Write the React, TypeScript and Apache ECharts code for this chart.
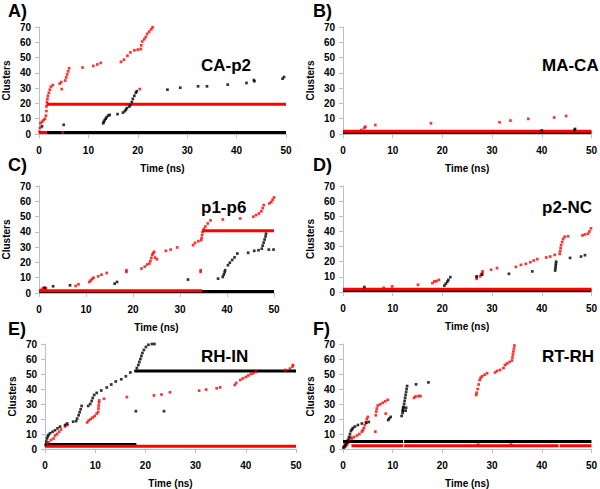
import React, { useEffect, useRef } from "react";
import * as echarts from "echarts";

// ---------- DATA ----------
const X_MIN = 0, X_MAX = 50, X_INTERVAL = 10;
const Y_MIN = 0, Y_MAX = 70, Y_INTERVAL = 10;
const X_NAME = "Time (ns)";
const Y_NAME = "Clusters";
const PANEL_TITLES = ["CA-p2", "MA-CA", "p1-p6", "p2-NC", "RH-IN", "RT-RH"];
const PANEL_LETTERS = ["A)", "B)", "C)", "D)", "E)", "F)"];

// Panel A: CA-p2
const aRed = [[0.1,1.5],[0.2,4],[0.3,7],[0.6,8],[0.9,9],[1.2,10],[1.4,12],[1.5,15],[1.5,18],[1.6,21],[1.7,23],[1.8,25],[2.0,27],[2.2,29],[2.4,31],[2.8,32],[4.6,29.4],[4.2,33],[4.5,34],[5.3,35],[5.5,37],[5.7,39],[5.9,41],[6.1,43],[8.8,43.5],[11,44.5],[11.8,45.5],[12.5,46.5],[16.6,47.2],[17.2,48.6],[17.9,51.2],[18.5,53.4],[19.3,54.8],[20,55.2],[20.6,55.6],[20.4,29.4],[20.7,58],[20.9,60.5],[21.3,62],[21.6,63.5],[21.9,65.5],[22.3,67],[22.7,68.5],[23,69.8],[4.8,1]];
const aBlack = [[0.6,5],[5,6],[13,7],[13.1,8],[13.3,9],[13.5,10],[13.7,11],[14,12],[14.3,12.5],[15.9,13],[17,14],[17.4,15],[17.6,16],[17.8,17],[18.3,18],[18.5,19],[18.8,21],[19,23],[19.3,25],[19.6,27],[19.8,28],[26,29],[28.6,30.3],[32.2,31.2],[34,31.2],[38.2,32.3],[42,33.4],[43.5,35.3],[43.6,34.5],[49.3,36.2],[49.6,37.3]];
const aRedLines = [[[1.5,19.5],[50,19.5]], [[0,1],[1.6,1]]];
const aBlackLines = [[[1.6,1],[50,1]]];

// Panel B: MA-CA
const bRed = [[3.7,2.6],[4.3,3.9],[4.5,4.8],[6.5,5.9],[17.7,7],[31.5,7.7],[33.7,8.8],[37.3,9.9],[42.5,10.8],[44.9,11.8]];
const bBlack = [[40,2.3],[46.6,2.6],[46.7,3.3]];
const bRedLines = [[[0,1.8],[50,1.8]]];
const bBlackLines = [[[0,1],[50,1]]];

// Panel C: p1-p6
const cRed = [[0.4,2],[0.8,3],[1.1,3.5],[1.5,3],[7.8,4.6],[8.4,5.7],[10.7,7.2],[11,8.2],[11.3,9.2],[11.6,10],[12.6,10.9],[13.3,12],[14.4,13.1],[18.6,13.8],[18.6,14.9],[21.8,16],[22.5,17.2],[23,18.6],[23.5,19.3],[23.7,21],[23.9,23],[24.1,25],[24.3,26],[24.5,27],[24.7,23.2],[25.1,22.1],[27,27.6],[28,28.4],[29.4,29.8],[32.8,31.3],[33.2,32.8],[33.9,33.9],[34.4,13.8],[34.4,14.9],[34.5,34.6],[34.6,36],[34.7,38],[34.8,40],[35.1,42],[35.4,43.5],[35.9,45.5],[36.5,47.5],[39.1,48.1],[42.8,48.8],[45.6,49.9],[46.2,51],[46.8,52],[47.3,53.5],[47.6,55.5],[47.8,57.5],[49,58.6],[49.4,59.5],[49.7,61],[50,62.5]];
const cBlack = [[1.25,3.3],[3,4.4],[6.6,5],[16.1,6.1],[16.6,7.2],[31.7,8.8],[38.1,9.4],[39.1,10.5],[39.3,12],[39.5,13.5],[39.6,14.9],[40.2,18.2],[40.6,19.8],[41.1,21.6],[41.6,23.3],[42.2,25.8],[44.5,26.3],[45.8,27.6],[46.7,28],[47.4,29],[47.6,31],[47.8,33],[48,35],[48.2,37],[48.3,38.8],[48.9,28.4],[49.9,28.4]];
const cRedLines = [[[0,1.5],[34.7,1.5]], [[34.7,40.7],[50,40.7]]];
const cBlackLines = [[[0,1],[50,1]]];

// Panel D: p2-NC
const dRed = [[8.2,2.8],[9.9,3.7],[15.1,4.8],[18,5.9],[18.4,7],[18.8,7.2],[19.3,8],[26.9,8.7],[26.9,9.8],[27.6,10.3],[27.8,11.5],[28,12.5],[28.1,13.6],[29.8,14.7],[31,15.8],[34.8,16.6],[35.8,17.9],[36.8,18.6],[37.7,19.7],[38.4,20.8],[39.1,21.7],[40.9,22.8],[41.7,23.4],[42.6,24.5],[43.6,25.2],[43.7,27],[43.8,29],[43.9,31],[44.1,33],[44.3,35],[44.6,36.5],[45.3,36.8],[48.2,37.4],[48.7,38],[49.3,38.5],[49.6,40],[49.9,42]];
const dBlack = [[4.3,3.3],[20.4,4.2],[20.7,5.5],[21,6.8],[21.2,8],[21.6,9.8],[26.9,10.3],[28,11.4],[33.4,12],[38.1,13.6],[42.7,14.2],[42.75,15.7],[42.8,17.2],[42.85,18.6],[42.9,20],[45.7,22.5],[47.9,23.4],[48.7,24.3]];
const dRedLines = [[[0,1.8],[50,1.8]]];
const dBlackLines = [[[0,1],[50,1]]];

// Panel E: RH-IN
const eRed = [[0.3,3],[0.7,4.5],[1.2,6],[1.7,7],[2,9],[2.4,10],[2.8,11.5],[3.2,13],[4,15],[4.5,16],[8.4,17.7],[8.7,19],[9.1,20],[9.5,21],[9.9,22],[10.3,23.6],[10.6,24.7],[10.65,27],[10.7,29],[10.75,31],[10.8,32.4],[11.75,33.5],[16.3,34.6],[21.7,35.7],[23.2,36.3],[24.9,37.8],[30.7,38.9],[32.1,39.6],[34.2,40.5],[34.9,41.1],[37.8,42.7],[38.1,44],[38.9,46],[39.4,47],[40,48],[40.5,49],[41,50],[41.5,50.5],[42,51.5],[47.9,52.7],[48.8,53.6],[49.3,55],[49.4,56]];
const eBlack = [[0.13,2.8],[0.25,5],[0.4,7],[0.55,8.5],[0.7,9.4],[1,10.5],[1.5,11.5],[2,12.5],[2.5,13.8],[3,14.9],[4,16],[4.4,17],[5.6,18.2],[6.2,18.6],[6.4,20.3],[6.7,22.5],[6.9,24.5],[7.1,26.5],[7.3,28.7],[8.6,28.7],[9,30],[9.3,32],[9.5,34],[9.8,36],[10.3,37.4],[11.2,39],[12.3,41],[13.2,43],[14.1,45],[15.2,46.5],[16.1,48.5],[17,51],[18,52],[18.3,54],[18.6,56],[18.8,58],[19,60],[19.2,62],[19.4,64],[19.7,66],[20.1,68],[20.6,69.5],[21.3,70],[21.8,70],[18.1,25.2],[23.7,25.2]];
const eRedLines = [[[0,1.8],[50,1.8]]];
const eBlackLines = [[[0,3],[18.2,3]], [[18,52],[50,52]]];

// Panel F: RT-RH
const fRed = [[0.2,1],[0.4,1.5],[0.6,2],[0.8,3],[1,4],[1.2,6],[1.3,7],[1.5,8],[1.8,7],[2.2,8],[2.8,9],[3.3,10],[3.8,11.6],[4,12.5],[4.2,14],[4.4,16],[4.6,18],[4.8,20],[5,21.4],[6.5,11.6],[6.6,22.5],[6.7,25],[6.8,27],[7,29],[7.5,29.8],[8,30.8],[8.5,31.8],[9,32.8],[8.6,23.6],[14.3,34.1],[14.6,35],[15.2,35.3],[15.6,35.3],[26.8,36],[26.9,37.5],[27.1,40],[27.3,43],[27.5,46],[27.7,47.5],[28,48.5],[28.5,49.5],[29,50.5],[30.6,51],[31,52],[31.6,52.7],[32.3,54],[32.6,56],[33,57],[33.5,58],[34,59],[34.1,61],[34.2,63],[34.3,65],[34.4,67],[34.5,69],[27.2,3],[33.8,3]];
const fBlack = [[0.1,1],[0.3,2],[0.5,3],[0.7,4],[0.9,5],[1,6.1],[1.2,8],[1.4,10],[1.6,12],[1.8,13],[2,14],[2.4,15],[3,16],[3.8,17],[4.7,17.5],[5.2,18],[9.1,19.3],[9.3,20.3],[9.6,21.4],[11.8,22],[12,24],[12.1,26],[12.2,28],[12.3,30],[12.4,32],[12.5,34],[12.6,36],[12.7,38],[12.8,40],[12.9,42],[12,25.5],[12.6,25.5],[12.1,27.5],[12.7,27.5],[14.7,43.1],[17.2,44.4]];
const fRedLines = [[[1.7,2.2],[12.1,2.2]], [[12.3,2.2],[43.4,2.2]], [[43.6,2.2],[50,2.2]]];
const fBlackLines = [[[0,5],[12.1,5]], [[12.3,5],[50,5]]];

const PANEL_RED = [aRed, bRed, cRed, dRed, eRed, fRed];
const PANEL_BLACK = [aBlack, bBlack, cBlack, dBlack, eBlack, fBlack];
const PANEL_RED_LINES = [aRedLines, bRedLines, cRedLines, dRedLines, eRedLines, fRedLines];
const PANEL_BLACK_LINES = [aBlackLines, bBlackLines, cBlackLines, dBlackLines, eBlackLines, fBlackLines];

// ---------- LAYOUT ----------
const FONT = "Liberation Sans, Arial, sans-serif";
const GRIDS = [
  { left: 35, top: 27, width: 251, height: 107 },
  { left: 343, top: 27, width: 250, height: 107 },
  { left: 33, top: 186, width: 241, height: 107 },
  { left: 343, top: 186, width: 251, height: 106 },
  { left: 45, top: 344, width: 251, height: 107 },
  { left: 343, top: 344, width: 251, height: 107 },
];
const TITLE_POS = [[201, 65], [542, 65], [201, 207], [542, 207], [201, 356], [542, 356]];
const LETTER_POS = [[8, 11], [313, 11], [8, 165], [313, 165], [8, 329], [313, 329]];

const RED = "#ff0000";
const BLACK = "#000000";
const AXIS_GREY = "#bfbfbf";

function buildOption() {
  const grid = GRIDS.map((g) => ({ ...g, containLabel: false }));
  const xAxis = GRIDS.map((_, i) => ({
    type: "value", gridIndex: i, min: X_MIN, max: X_MAX, interval: X_INTERVAL,
    name: X_NAME, nameLocation: "middle", nameGap: 29,
    nameTextStyle: { color: BLACK, fontWeight: "bold", fontSize: 10, fontFamily: FONT },
    axisLine: { show: true, lineStyle: { color: AXIS_GREY, width: 1 } },
    axisTick: { show: true, length: 4, lineStyle: { color: AXIS_GREY } },
    axisLabel: { color: BLACK, fontWeight: "bold", fontSize: 10, fontFamily: FONT, margin: 11 },
    splitLine: { show: false },
  }));
  const yAxis = GRIDS.map((_, i) => ({
    type: "value", gridIndex: i, min: Y_MIN, max: Y_MAX, interval: Y_INTERVAL,
    name: Y_NAME, nameLocation: "middle", nameGap: 28, nameRotate: 90,
    nameTextStyle: { color: BLACK, fontWeight: "bold", fontSize: 10, fontFamily: FONT },
    axisLine: { show: true, lineStyle: { color: AXIS_GREY, width: 1 } },
    axisTick: { show: true, length: 4, lineStyle: { color: AXIS_GREY } },
    axisLabel: { color: BLACK, fontWeight: "bold", fontSize: 10, fontFamily: FONT, margin: 8 },
    splitLine: { show: false },
  }));

  const series: any[] = [];
  for (let i = 0; i < 6; i++) {
    PANEL_BLACK_LINES[i].forEach((seg) => series.push({
      type: "line", xAxisIndex: i, yAxisIndex: i, data: seg, showSymbol: false, symbol: "none",
      lineStyle: { color: BLACK, width: 3 }, z: 2, silent: true,
    }));
    PANEL_RED_LINES[i].forEach((seg) => series.push({
      type: "line", xAxisIndex: i, yAxisIndex: i, data: seg, showSymbol: false, symbol: "none",
      lineStyle: { color: RED, width: 3 }, z: 3, silent: true,
    }));
    series.push({
      type: "scatter", xAxisIndex: i, yAxisIndex: i, data: PANEL_RED[i], symbol: "rect",
      symbolSize: 2.7, itemStyle: { color: RED }, z: 4, silent: true,
    });
    series.push({
      type: "scatter", xAxisIndex: i, yAxisIndex: i, data: PANEL_BLACK[i], symbol: "rect",
      symbolSize: 2.7, itemStyle: { color: BLACK }, z: 5, silent: true,
    });
  }

  const graphic: any[] = [];
  for (let i = 0; i < 6; i++) {
    graphic.push({
      type: "text", x: TITLE_POS[i][0], y: TITLE_POS[i][1], z: 10,
      style: { text: PANEL_TITLES[i], fill: BLACK, fontSize: 17, fontWeight: "bold", fontFamily: FONT, verticalAlign: "middle", align: "left" },
    });
    graphic.push({
      type: "text", x: LETTER_POS[i][0], y: LETTER_POS[i][1], z: 10,
      style: { text: PANEL_LETTERS[i], fill: BLACK, fontSize: 18, fontWeight: "bold", fontFamily: FONT, verticalAlign: "middle", align: "left" },
    });
  }

  return {
    animation: false,
    backgroundColor: "#ffffff",
    grid, xAxis, yAxis, series, graphic,
  };
}

export default function App() {
  const ref = useRef<HTMLDivElement>(null);
  useEffect(() => {
    document.body.style.margin = "0";
    if (!ref.current) return;
    const chart = echarts.init(ref.current, undefined, { renderer: "svg" });
    chart.setOption(buildOption() as any);
    return () => chart.dispose();
  }, []);
  return <div ref={ref} style={{ width: 600, height: 489 }} />;
}
